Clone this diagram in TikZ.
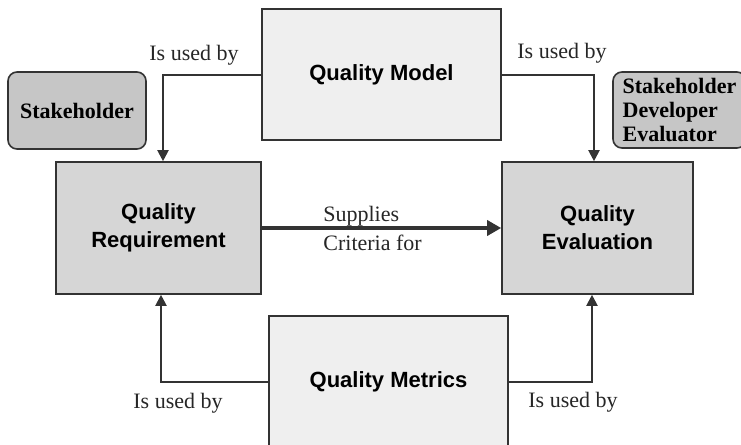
\documentclass[tikz,border=0pt]{standalone}
\usepackage{fontspec}
\setmainfont{Liberation Serif}
\newfontfamily\arialfont{Liberation Sans}
\usetikzlibrary{arrows.meta}

\definecolor{trait}{HTML}{333333}
\definecolor{fondclair}{HTML}{EFEFEF}
\definecolor{fondmoyen}{HTML}{D6D6D6}
\definecolor{fondacteur}{HTML}{C6C6C6}

\tikzset{
  bloc/.style={draw=trait, line width=0.8pt, inner sep=0pt,
    font=\arialfont\bfseries\fontsize{11}{14}\selectfont, align=center},
  acteur/.style={draw=trait, line width=0.8pt, fill=fondacteur, rounded corners=4.5pt,
    inner sep=0pt, font=\bfseries\fontsize{11}{12}\selectfont, align=left},
  fleche/.style={draw=trait, line width=1pt, -{Triangle[length=5.5pt,width=5.5pt]}},
  etiq/.style={font=\fontsize{11}{14.5}\selectfont, text=black!85, inner sep=0pt}
}

\begin{document}
\begin{tikzpicture}[x=0.5pt,y=-0.5pt]
\clip (0,0) rectangle (741,445);
% les quatre blocs
\node[bloc, fill=fondclair, minimum width=119.5pt, minimum height=65.5pt] (modele) at (381.5,74.5) {Quality Model};
\node[bloc, fill=fondmoyen, minimum width=102.5pt, minimum height=66pt] (exigence) at (158.5,228) {Quality\\Requirement};
\node[bloc, fill=fondmoyen, minimum width=95.5pt, minimum height=66pt] (evaluation) at (597.5,228) {Quality\\Evaluation};
\node[bloc, fill=fondclair, minimum width=119.5pt, minimum height=66pt] (metriques) at (388.5,382) {Quality Metrics};
% acteurs
\node[acteur, minimum width=69pt, minimum height=38.5pt] (acteur1) at (77,110.5) {Stakeholder};
\node[acteur, minimum width=66.5pt, minimum height=38pt] (acteur2) at (679.5,110) {Stakeholder\\Developer\\Evaluator};
% liaisons
\draw[fleche] (modele.west) -| ([xshift=2.25pt]exigence.north);
\draw[fleche] (modele.east) -| ([xshift=-1.75pt]evaluation.north);
\draw[fleche] (metriques.west) -| ([xshift=1.25pt]exigence.south);
\draw[fleche] (metriques.east) -| ([xshift=-2.75pt]evaluation.south);
\draw[draw=trait, line width=1.7pt, -{Triangle[length=7pt,width=7.5pt]}] (exigence.east) -- (evaluation.west);
% textes des liaisons
\node[etiq] (utilise1) at (194,55) {Is used by};
\node[etiq] (utilise2) at (562,53) {Is used by};
\node[etiq] (utilise3) at (178,403) {Is used by};
\node[etiq] (utilise4) at (573,402) {Is used by};
\node[etiq, align=left, anchor=west] (fournit) at (323,228) {Supplies\\Criteria for};
\end{tikzpicture}
\end{document}
